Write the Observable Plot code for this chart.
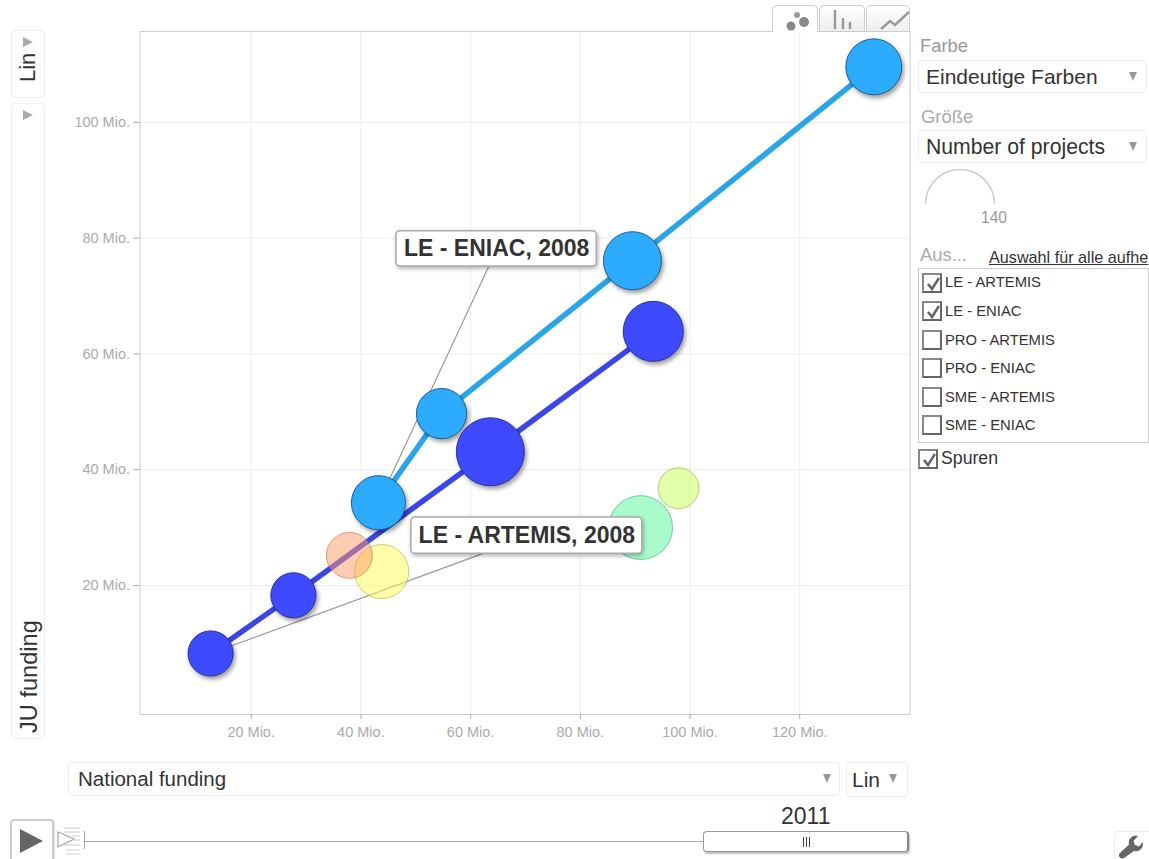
<!DOCTYPE html>
<html lang="de">
<head>
<meta charset="utf-8">
<title>Motion chart</title>
<script src="https://cdn.jsdelivr.net/npm/d3@7"></script>
<script src="https://cdn.jsdelivr.net/npm/@observablehq/plot@0.6"></script>
<style>
html,body{margin:0;padding:0;background:#fff;width:1149px;height:859px;overflow:hidden;font-family:"Liberation Sans",Arial,sans-serif;color:#333}
#root{position:relative;width:1149px;height:859px;overflow:hidden}
#chart svg{position:absolute;left:0;top:0}
.w{position:absolute;box-sizing:border-box}
.box{border:1px solid #eee;border-radius:4px;background:#fff}
.t{position:absolute;white-space:nowrap;line-height:1}
.rot{position:absolute;white-space:nowrap;line-height:1;transform-origin:0 0;transform:rotate(-90deg)}
.tri{position:absolute;width:0;height:0;border-left:4.5px solid transparent;border-right:4.5px solid transparent;border-top:9px solid #999}
.triR{position:absolute;width:0;height:0;border-top:5px solid transparent;border-bottom:5px solid transparent;border-left:10px solid #aaa}
.cb{position:absolute;box-sizing:border-box;width:20px;height:20px;border:2px solid #777;border-color:#888 #666 #666 #888;background:#fff}
</style>
</head>
<body>
<div id="root"><div id="chart"></div></div>
<script>
// National funding (Mio.), JU funding (Mio.), number of projects
const eniacX = [43.2, 54.7, 89.5, 133.5];
const eniacY = [34.3, 49.7, 76.1, 109.6];
const eniacN = [86, 74, 99, 92];
const artemisX = [12.6, 27.7, 63.6, 93.3];
const artemisY = [8.25, 18.3, 43.1, 63.9];
const artemisN = [60, 60, 136, 106];
const otherNames = ["PRO - ARTEMIS", "SME - ARTEMIS", "PRO - ENIAC", "SME - ENIAC"];
const otherX = [37.9, 43.8, 91.0, 97.9];
const otherY = [25.2, 22.4, 30.0, 36.8];
const otherN = [62, 86, 120, 49];
const otherColors = ["#ff9966", "#ffff55", "#55f899", "#c8ff55"];
const otherStrokes = ["#b5703f", "#a8a83a", "#3aa868", "#86a83a"];
const xTicks = [20, 40, 60, 80, 100, 120];
const yTicks = [20, 40, 60, 80, 100];
const calloutText = ["LE - ENIAC, 2008", "LE - ARTEMIS, 2008"];
const calloutX1 = [46.5, 49.2];
const calloutX2 = [83.0, 91.3];
const calloutY1 = [75.1, 25.5];
const calloutY2 = [81.2, 31.75];
const calloutFootX = [63.3, 62.2];
const calloutFootY = [75.1, 25.5];
const seriesNames = ["LE - ARTEMIS", "LE - ENIAC", "PRO - ARTEMIS", "PRO - ENIAC", "SME - ARTEMIS", "SME - ENIAC"];
const seriesChecked = [true, true, false, false, false, false];

const table = (xs, ys, ns) => xs.map((x, i) => ({x, y: ys[i], n: ns[i]}));
const eniac = table(eniacX, eniacY, eniacN);
const artemis = table(artemisX, artemisY, artemisN);
const others = otherX.map((x, i) => ({x, y: otherY[i], n: otherN[i], name: otherNames[i], fill: otherColors[i], stroke: otherStrokes[i]}));
const callouts = calloutText.map((text, i) => ({
  text, x1: calloutX1[i], x2: calloutX2[i], y1: calloutY1[i], y2: calloutY2[i],
  fx: calloutFootX[i], fy: calloutFootY[i],
  sx: i === 0 ? eniacX[0] : artemisX[0], sy: i === 0 ? eniacY[0] : artemisY[0]
}));
const shadow = "drop-shadow(2px 3px 2px rgba(0,0,0,.38))";

const chart = Plot.plot({
  width: 1149, height: 859,
  marginTop: 31, marginRight: 239.5, marginBottom: 145, marginLeft: 139.5,
  style: {background: "transparent", fontFamily: '"Liberation Sans",Arial,sans-serif', overflow: "visible"},
  x: {domain: [-0.27, 140.1]},
  y: {domain: [-2.29, 115.7]},
  r: {type: "sqrt", domain: [0, 140], range: [0, 34.5]},
  marks: [
    Plot.gridX(xTicks, {stroke: "#ededed", strokeOpacity: 1}),
    Plot.gridY(yTicks, {stroke: "#ededed", strokeOpacity: 1}),
    Plot.frame({stroke: "#ccc"}),
    Plot.axisX(xTicks, {anchor: "bottom", tickSize: 5, tickPadding: 7, fontSize: 14.5, color: "#aaa", label: null, tickFormat: d => `${d} Mio.`}),
    Plot.axisY(yTicks, {anchor: "left", tickSize: 6, tickPadding: 4, fontSize: 14.5, color: "#aaa", label: null, tickFormat: d => `${d} Mio.`}),
    Plot.line(eniac, {x: "x", y: "y", stroke: "#2aa5ea", strokeWidth: 5.5}),
    Plot.line(artemis, {x: "x", y: "y", stroke: "#3c46e8", strokeWidth: 5.5}),
    Plot.link(callouts, {x1: "sx", y1: "sy", x2: "fx", y2: "fy", stroke: "#999", strokeWidth: 1.2}),
    Plot.dot(others, {x: "x", y: "y", r: "n", fill: "fill", fillOpacity: 0.5, stroke: "stroke", strokeOpacity: 0.6, strokeWidth: 1}),
    Plot.dot(eniac, {x: "x", y: "y", r: "n", fill: "#2dabff", stroke: "#1d5f8c", strokeWidth: 1, imageFilter: shadow}),
    Plot.dot(artemis, {x: "x", y: "y", r: "n", fill: "#3d4aff", stroke: "#2a348f", strokeWidth: 1, imageFilter: shadow}),
    Plot.rect(callouts, {x1: "x1", x2: "x2", y1: "y1", y2: "y2", fill: "#fff", stroke: "#aaa", strokeWidth: 1.5, rx: 4, imageFilter: "drop-shadow(1px 2px 2px rgba(0,0,0,.3))"}),
    Plot.text(callouts, {x: d => (d.x1 + d.x2) / 2, y: d => (d.y1 + d.y2) / 2, text: "text", fontSize: 23, fontWeight: "bold", fill: "#333", textAnchor: "middle", lineAnchor: "middle"})
  ]
});
document.getElementById("chart").appendChild(chart);

// Interface chrome around the chart
const root = document.getElementById("root");
const add = (cls, css, html) => {
  const e = document.createElement("div");
  e.className = cls;
  e.style.cssText = css;
  if (html !== undefined) e.innerHTML = html;
  root.appendChild(e);
  return e;
};
const box = (x, y, w, h, extra = "") => add("w box", `left:${x}px;top:${y}px;width:${w}px;height:${h}px;${extra}`);
const text = (s, x, y, size, color = "#333", extra = "") => add("t", `left:${x}px;top:${y}px;font-size:${size}px;color:${color};${extra}`, s);
const tri = (x, y) => add("tri", `left:${x}px;top:${y}px`);
const triR = (x, y) => add("triR", `left:${x}px;top:${y}px`);
const svg = (x, y, w, h, inner) => add("w", `left:${x}px;top:${y}px;width:${w}px;height:${h}px`, `<svg xmlns="http://www.w3.org/2000/svg" width="${w}" height="${h}" style="display:block;overflow:visible">${inner}</svg>`);
const check = '<path d="M4 9 L8 14 L15 3" fill="none" stroke="#666" stroke-width="2.6"/>';
const checkbox = (x, y, on) => add("cb", `left:${x}px;top:${y}px`, on ? `<svg width="16" height="16" style="display:block">${check}</svg>` : "");

// Left column
box(11, 30, 34, 68);
triR(23, 37);
add("rot", "left:17px;top:82px;font-size:22px;color:#333", "Lin");
box(11, 103, 34, 636);
triR(23, 110);
add("rot", "left:18px;top:733px;font-size:23.6px;color:#333", "JU funding");

// Tabs
add("w", "left:772px;top:5px;width:46px;height:27px;background:#fff;border:1px solid #ccc;border-bottom:none;border-radius:5px 5px 0 0");
add("w", "left:819px;top:5px;width:46px;height:26px;background:linear-gradient(#fff,#eee);border:1px solid #ccc;border-bottom:none;border-radius:5px 5px 0 0");
add("w", "left:866px;top:5px;width:44px;height:26px;background:linear-gradient(#fff,#eee);border:1px solid #ccc;border-bottom:none;border-radius:5px 5px 0 0");
svg(772, 5, 140, 27,
  '<circle cx="19" cy="21" r="4.5" fill="#888"/><circle cx="25" cy="10" r="3" fill="#999"/><circle cx="32" cy="17" r="5" fill="#888"/>' +
  '<path d="M63 5V24M71 13V24M78 17V24" stroke="#999" stroke-width="2.4" fill="none"/>' +
  '<path d="M109 24L118 16L123 20L137 7" stroke="#999" stroke-width="2.4" fill="none"/>');

// Right column
text("Farbe", 920, 37, 18.4, "#999");
box(918, 60, 229, 33);
text("Eindeutige Farben", 926, 66, 21, "#333");
tri(1129, 72);
text("Größe", 921, 108, 18.4, "#aaa");
box(918, 130, 229, 33);
text("Number of projects", 926, 136, 21.2, "#333");
tri(1129, 142);
svg(920, 165, 80, 45, '<path d="M5.5 39 A34.5 34.5 0 0 1 74.5 39" fill="none" stroke="#ccc" stroke-width="1.5"/>');
text("140", 981, 210, 15.6, "#999");
text("Aus...", 920, 246, 18.4, "#aaa");
text("Auswahl für alle aufhe", 989, 249, 16.2, "#333", "text-decoration:underline");
add("w", "left:918px;top:268px;width:231px;height:175px;border:1px solid #ccc;background:#fff");
const rowTop = [272.5, 301, 330, 358, 387, 415];
seriesNames.forEach((name, i) => {
  checkbox(922, rowTop[i], seriesChecked[i]);
  text(name, 945, rowTop[i] + 2.5, 14.8, "#333");
});
checkbox(918, 449, true);
text("Spuren", 941, 450, 17.7, "#333");

// Bottom row
box(68, 762, 772, 34);
text("National funding", 78, 769, 20.5, "#333");
tri(823, 774);
box(846, 762, 62, 35);
text("Lin", 852, 769, 21, "#333");
tri(889, 774);
add("w", "left:10px;top:819px;width:44px;height:45px;border:2px solid #ccc;border-radius:4px;background:#fff;box-shadow:1px 1px 1px #ddd");
svg(20, 829, 24, 24, '<path d="M0 0L23 12L0 24Z" fill="#666"/>');
svg(56, 825, 26, 30, '<path d="M2 7L18 14L2 22Z" fill="#fff" stroke="#aaa" stroke-width="1.3"/><path d="M8 3H24M8 7H24M16 11H24M16 15H24M8 20H24M10 25H24M10 29H24" stroke="#ccc" stroke-width="1"/>');
add("w", "left:85px;top:841px;width:620px;height:1px;background:#aaa");
add("w", "left:84px;top:831px;width:1px;height:18px;background:#aaa");
text("2011", 781, 805, 23, "#333");
add("w", "left:703px;top:831px;width:206px;height:21px;background:#fff;border:1px solid #999;border-right:2px solid #888;border-radius:4px;box-shadow:1px 2px 2px #bbb");
add("w", "left:803px;top:837px;width:7px;height:10px;background:repeating-linear-gradient(90deg,#444 0 1.4px,#fff 1.4px 2.8px)");
box(1114, 831, 40, 40);
svg(1118, 835, 26, 24, '<path d="M1 19 L11 9.5 A7 7 0 0 1 20 1 L15.5 6 L17 10 L21 11.5 L24.5 7 A7 7 0 0 1 16 16 L6 23 A3.5 3.5 0 0 1 1 19Z" fill="#666"/>');
</script>
</body>
</html>
